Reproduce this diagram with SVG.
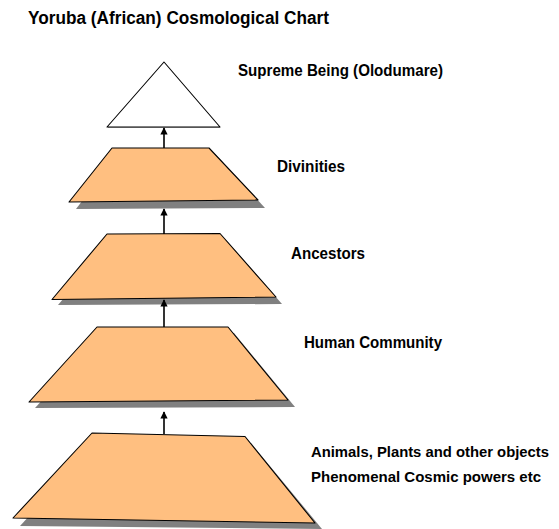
<svg xmlns="http://www.w3.org/2000/svg" width="559" height="529" viewBox="0 0 559 529">
<defs>
<style>
.lbl{font-family:"Liberation Sans",Arial,sans-serif;font-weight:bold;font-size:16px;fill:#000}
.lbl2{font-family:"Liberation Sans",Arial,sans-serif;font-weight:bold;font-size:15px;fill:#000}
.title{font-family:"Liberation Sans",Arial,sans-serif;font-weight:bold;font-size:18px;fill:#000}
.tier{fill:#FFBF80;stroke:#000;stroke-width:1.1;stroke-linejoin:round}
.shadow{fill:#808080;stroke:none}
.conn{stroke:#000;stroke-width:1.6;fill:none}
</style>
<marker id="ah" viewBox="0 0 10 10" refX="9" refY="5" markerWidth="5" markerHeight="4.5" markerUnits="strokeWidth" orient="auto">
<path d="M0,0 L10,5 L0,10 z" fill="#000"/>
</marker>
</defs>
<rect width="559" height="529" fill="#fff"/>
<text class="title" x="28" y="24" textLength="301" lengthAdjust="spacingAndGlyphs">Yoruba (African) Cosmological Chart</text>

<g id="supreme-being">
<polygon points="164,62 107,127 220,127" fill="#fff" stroke="#000" stroke-width="1.1" stroke-linejoin="round"/>
<line x1="108" y1="127.5" x2="220" y2="127.5" stroke="#555" stroke-width="1"/>
<text class="lbl" x="238" y="76" textLength="205" lengthAdjust="spacingAndGlyphs">Supreme Being (Olodumare)</text>
</g>

<g id="divinities">
<polygon class="shadow" points="118,154 215,154 265,208 76,209"/>
<polygon class="tier" points="112,148 209,148 258,200 69,202"/>
<text class="lbl" x="277" y="172" textLength="68" lengthAdjust="spacingAndGlyphs">Divinities</text>
</g>

<g id="ancestors">
<polygon class="shadow" points="113,240 226,240 282,304 58,305"/>
<polygon class="tier" points="107,234 220,233.5 276,297 52,299.5"/>
<text class="lbl" x="291" y="259" textLength="74" lengthAdjust="spacingAndGlyphs">Ancestors</text>
</g>

<g id="human-community">
<polygon class="shadow" points="103,333 234,333 295,407 35,408"/>
<polygon class="tier" points="97,327 228,327 288,400 29,402"/>
<text class="lbl" x="304" y="348" textLength="138" lengthAdjust="spacingAndGlyphs">Human Community</text>
</g>

<g id="animals-plants">
<polygon class="shadow" points="99,440 251,443 322,529 20,526"/>
<polygon class="tier" points="92,433 245,436.5 315,523 13,518"/>
<text class="lbl2" x="311" y="457" textLength="238" lengthAdjust="spacingAndGlyphs">Animals, Plants and other objects</text>
<text class="lbl2" x="311" y="482" textLength="230" lengthAdjust="spacingAndGlyphs">Phenomenal Cosmic powers etc</text>
</g>

<g id="connectors">
<line class="conn" x1="164" y1="148" x2="164" y2="128" marker-end="url(#ah)"/>
<line class="conn" x1="164" y1="234" x2="164" y2="209" marker-end="url(#ah)"/>
<line class="conn" x1="164" y1="327" x2="164" y2="300" marker-end="url(#ah)"/>
<line class="conn" x1="164" y1="434" x2="164" y2="412" marker-end="url(#ah)"/>
</g>
</svg>
